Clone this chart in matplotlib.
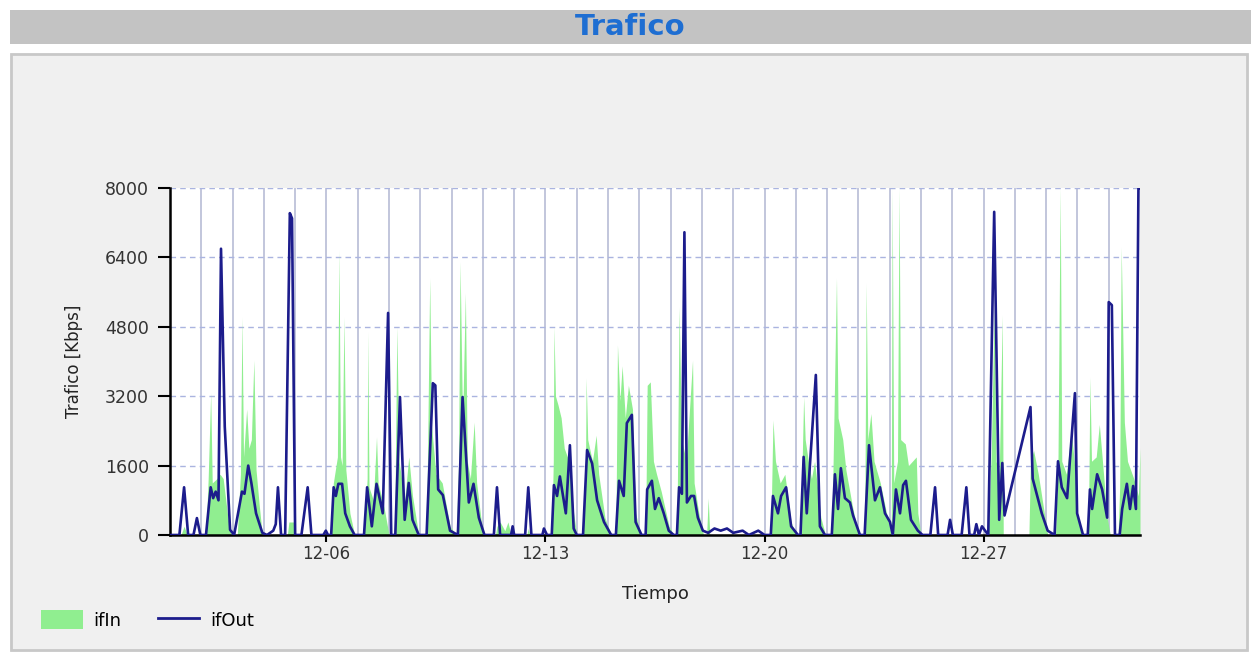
import matplotlib
matplotlib.use("Agg")
import matplotlib.pyplot as plt
from matplotlib.patches import Rectangle, Patch
from matplotlib.lines import Line2D

# ifOut (dia desde 12-01, Kbps)
out_days = [0.0, 0.3, 0.45, 0.58, 0.75, 0.86, 0.97, 1.15, 1.3, 1.38, 1.46, 1.55, 1.63, 1.75, 1.92,
            2.05, 2.2, 2.3, 2.38, 2.5, 2.6, 2.75, 2.95, 3.1, 3.3, 3.38, 3.45, 3.55, 3.68, 3.83, 3.9,
            4.0, 4.2, 4.4, 4.52, 4.9, 4.98, 5.05, 5.15, 5.23, 5.3, 5.38, 5.5, 5.6, 5.75, 5.9,
            6.2, 6.3, 6.45, 6.6, 6.8, 6.97, 7.07, 7.2, 7.35, 7.5, 7.63, 7.75, 7.95,
            8.2, 8.4, 8.48, 8.57, 8.72, 8.95, 9.2, 9.35, 9.55, 9.7, 9.87, 10.05,
            10.35, 10.45, 10.55, 10.9, 10.95, 11.0, 11.35, 11.45, 11.55, 11.9, 11.95, 12.05,
            12.2, 12.27, 12.37, 12.46, 12.65, 12.78, 12.9, 13.0, 13.2, 13.33, 13.49, 13.65, 13.87, 14.1,
            14.25, 14.35, 14.5, 14.6, 14.76, 14.88, 15.07, 15.2, 15.25, 15.4, 15.5, 15.62, 15.78, 15.94,
            16.1, 16.2, 16.27, 16.36, 16.44, 16.52, 16.65, 16.75, 16.87, 17.03, 17.2, 17.4, 17.6, 17.8,
            18.0, 18.3, 18.5, 18.8, 19.0, 19.2, 19.27, 19.43, 19.53, 19.69, 19.85, 20.07,
            20.15, 20.25, 20.35, 20.64, 20.77, 20.93, 21.15, 21.25, 21.35, 21.44, 21.57, 21.73, 21.83, 22.05,
            22.2, 22.34, 22.53, 22.69, 22.85, 23.01, 23.1, 23.2, 23.33, 23.43, 23.52, 23.68, 23.9, 24.05,
            24.3, 24.45, 24.55, 24.85, 24.93, 25.02, 25.3, 25.45, 25.55, 25.7, 25.77, 25.85, 25.95, 26.05,
            26.15, 26.34, 26.5, 26.6, 26.67, 27.5, 27.57, 27.86, 28.05, 28.27, 28.38, 28.5, 28.67, 28.83,
            28.92, 28.99, 29.18, 29.33, 29.4, 29.47, 29.63, 29.79, 29.95, 30.0, 30.1, 30.2, 30.35,
            30.43, 30.58, 30.68, 30.78, 30.87, 30.95, 31.0]
out_vals = [0, 0, 1100, 0, 0, 390, 0, 0, 1100, 850, 1000, 800, 6600, 2500, 120,
            0, 600, 1000, 950, 1600, 1200, 500, 50, 0, 100, 250, 1100, 0, 0, 7420, 7300,
            0, 0, 1100, 0, 0, 100, 0, 0, 1100, 900, 1180, 1180, 500, 200, 0,
            0, 1100, 200, 1180, 500, 5120, 0, 0, 3180, 350, 1200, 350, 0,
            0, 3500, 3450, 1050, 920, 100, 0, 3180, 750, 1180, 400, 0,
            0, 1100, 0, 0, 200, 0, 0, 1100, 0, 0, 150, 0,
            0, 1150, 900, 1350, 500, 2070, 150, 0, 0, 1960, 1650, 800, 300, 0,
            0, 1250, 900, 2580, 2770, 300, 0, 0, 1050, 1250, 600, 850, 500, 100,
            0, 0, 1100, 950, 6980, 750, 900, 900, 400, 100, 50, 150, 100, 150,
            50, 100, 0, 100, 0, 0, 900, 500, 900, 1100, 200, 0,
            0, 1800, 500, 3690, 200, 0, 0, 1400, 600, 1540, 850, 750, 450, 0,
            0, 2070, 800, 1100, 500, 300, 0, 1050, 500, 1150, 1250, 350, 100, 0,
            0, 1100, 0, 0, 350, 0, 0, 1100, 0, 0, 250, 0, 200, 100,
            0, 7450, 350, 1660, 450, 2950, 1300, 500, 100, 0, 1700, 1100, 850, 2400,
            3270, 500, 0, 0, 1050, 600, 1400, 1050, 400, 5370, 5300, 0, 0,
            600, 1180, 600, 1130, 600, 8000, 8000]

# ifIn
in_days = [0.0, 0.35, 0.45, 0.55, 1.15, 1.22, 1.3, 1.35, 1.5, 1.6, 1.7, 1.85, 1.95,
           2.15, 2.25, 2.3, 2.35, 2.45, 2.52, 2.6, 2.68, 2.75, 2.85, 2.95,
           3.75, 3.8, 3.95, 4.0, 5.15, 5.22, 5.35, 5.4, 5.45, 5.5, 5.56, 5.62, 5.75, 5.9,
           6.2, 6.3, 6.32, 6.36, 6.5, 6.6, 6.65, 6.85, 7.0,
           7.18, 7.25, 7.32, 7.5, 7.63, 7.75, 7.95, 8.2, 8.3, 8.36, 8.5, 8.7, 8.95, 9.15,
           9.22, 9.27, 9.35, 9.44, 9.5, 9.6, 9.72, 9.8, 9.95, 10.05,
           10.4, 10.45, 10.55, 10.7, 10.8, 10.9, 11.4, 11.45, 11.5,
           12.2, 12.25, 12.27, 12.32, 12.4, 12.5, 12.6, 12.75, 12.9, 13.0,
           13.2, 13.28, 13.3, 13.35, 13.5, 13.62, 13.7, 13.9, 14.1,
           14.25, 14.3, 14.38, 14.45, 14.55, 14.65, 14.78, 14.88, 15.05,
           15.2, 15.25, 15.35, 15.45, 15.55, 15.7, 15.95, 16.1,
           16.2, 16.27, 16.35, 16.5, 16.7, 16.75, 16.9, 17.05, 17.15, 17.2, 17.25,
           19.2, 19.27, 19.35, 19.5, 19.65, 19.85, 20.0,
           20.15, 20.25, 20.3, 20.4, 20.5, 20.6, 20.8, 20.95,
           21.15, 21.3, 21.35, 21.5, 21.6, 21.8, 22.0,
           22.2, 22.25, 22.3, 22.4, 22.5, 22.7, 22.9, 23.05, 23.08, 23.13, 23.25, 23.3, 23.35,
           23.5, 23.6, 23.85, 23.9, 24.0,
           26.15, 26.25, 26.34, 26.4, 26.5, 26.6, 26.63, 27.45, 27.5, 27.6, 27.75, 27.9, 28.05,
           28.3, 28.38, 28.45, 28.5, 28.65, 28.8, 28.9, 29.0, 29.15,
           29.35, 29.4, 29.45, 29.6, 29.7, 29.8, 29.95, 30.05,
           30.3, 30.35, 30.4, 30.5, 30.6, 30.7, 30.8, 30.95, 31.0]
in_vals = [0, 0, 200, 0, 0, 1300, 3270, 1200, 1300, 1400, 1300, 400, 0,
           0, 1400, 5025, 1800, 2900, 2000, 2200, 4030, 1500, 700, 0,
           0, 300, 300, 0, 0, 1200, 1800, 6570, 1800, 1600, 5025, 1500, 500, 0,
           0, 1300, 4680, 1100, 800, 2260, 1200, 600, 0,
           0, 4800, 1700, 800, 1800, 900, 0, 0, 5920, 2500, 1400, 1200, 200, 0,
           1600, 6300, 2600, 5580, 1700, 1300, 2600, 1200, 300, 0,
           0, 200, 300, 100, 300, 0, 0, 150, 0,
           0, 1700, 4800, 3200, 3000, 2700, 2000, 1700, 500, 0,
           0, 1700, 3620, 2200, 1700, 2300, 1400, 400, 0,
           0, 4380, 3100, 3900, 2700, 3450, 2900, 500, 0,
           0, 3450, 3530, 1700, 1400, 1000, 200, 0,
           0, 5250, 2200, 1700, 4030, 1200, 500, 0, 0, 850, 0,
           0, 2650, 1700, 1200, 1400, 300, 0,
           0, 3180, 2200, 1700, 1300, 1700, 400, 0,
           0, 5920, 2700, 2200, 1500, 700, 0,
           0, 5800, 2200, 2800, 1700, 1200, 500, 0, 8000, 1200, 1700, 8000, 2200,
           2100, 1600, 1800, 500, 0,
           0, 2000, 5250, 1700, 1400, 5070, 0, 0, 1700, 1950, 1400, 700, 0,
           0, 1800, 8000, 1700, 1400, 2400, 1700, 400, 0,
           0, 3640, 1700, 1800, 2550, 1700, 400, 0,
           0, 1100, 6640, 2600, 1700, 1500, 1300, 900, 2000]

tick_days = [5, 12, 19, 26]
tick_labels = ["12-06", "12-13", "12-20", "12-27"]
y_ticks = [0, 1600, 3200, 4800, 6400, 8000]

plt.rcParams['font.family'] = ['DejaVu Sans']

fig = plt.figure(figsize=(12.51, 6.54), dpi=100)
fig.patch.set_facecolor('white')

W, H = 1251.0, 654.0
# barra de titulo y panel (detras de los ejes)
fig.patches.append(Rectangle((10 / W, 1 - 44 / H), 1241 / W, 34 / H, transform=fig.transFigure,
                             facecolor='#c3c3c3', edgecolor='none', zorder=-2))
fig.patches.append(Rectangle((11 / W, 1 - 650 / H), 1236 / W, 596 / H, transform=fig.transFigure,
                             facecolor='#f0f0f0', edgecolor='#c8c8c8', linewidth=2, zorder=-2))
fig.text(630 / W, 1 - 27 / H, "Trafico", ha='center', va='center', fontsize=21,
         fontweight='bold', color='#1e6ed2')

ax = fig.add_axes([170 / W, 1 - 535 / H, 970 / W, 347 / H])
ax.set_facecolor('white')

ax.fill_between(in_days, in_vals, 0, color='#90ee90', linewidth=0, zorder=2)
ax.plot(out_days, out_vals, color='#1c1c8c', linewidth=1.9, zorder=3)

ax.set_xlim(0, 31)
ax.set_ylim(0, 8000)
ax.set_xticks(tick_days)
ax.set_xticklabels(tick_labels)
ax.set_xticks(range(1, 31), minor=True)
ax.set_yticks(y_ticks)
ax.tick_params(axis='x', which='minor', length=0)
ax.tick_params(axis='x', which='major', labelsize=12, labelcolor='#333333', direction='out',
               length=5, width=1.5, pad=2)
ax.tick_params(axis='y', which='major', labelsize=12.5, labelcolor='#333333', direction='out',
               length=9, width=1.5, pad=6)

for d in range(1, 31):
    ax.axvline(d, color='#b8bcd6', linewidth=1.2, zorder=1)
for v in y_ticks[1:]:
    ax.axhline(v, color='#aab4e0', linewidth=1, linestyle=(0, (4, 3)), zorder=1)

for s in ['top', 'right']:
    ax.spines[s].set_visible(False)
ax.spines['left'].set_linewidth(1.8)
ax.spines['bottom'].set_linewidth(1.8)

ax.set_ylabel("Trafico [Kbps]", fontsize=12, color='#222222', labelpad=16)
ax.set_xlabel("Tiempo", fontsize=13, color='#222222', labelpad=16)

handles = [Patch(facecolor='#90ee90', edgecolor='none', label='ifIn'),
           Line2D([], [], color='#1c1c8c', linewidth=2, label='ifOut')]
fig.legend(handles=handles, loc='center left', bbox_to_anchor=(25 / W, 1 - 620 / H), ncol=2,
           frameon=False, fontsize=13, handlelength=2.3, handleheight=1.2, handletextpad=0.6,
           columnspacing=2.0)

plt.savefig("out.png", dpi=100)
plt.close()
